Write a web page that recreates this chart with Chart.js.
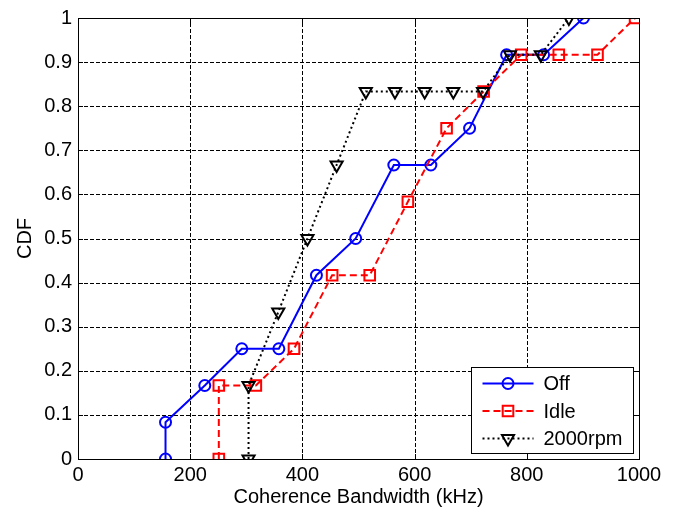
<!DOCTYPE html>
<html>
<head>
<meta charset="utf-8">
<script src="https://cdn.jsdelivr.net/npm/chart.js@4.4.1/dist/chart.umd.min.js"></script>
<style>
html,body{margin:0;padding:0;background:#fff;}
#c{display:block;}
</style>
</head>
<body>
<canvas id="c" width="683" height="512"></canvas>
<script>
// ---- data ----
const seriesNames = ['Off', 'Idle', '2000rpm'];
const offX  = [156, 156, 226, 292, 358, 425, 495, 563, 629, 698, 764, 830, 901];
const offY  = [0, 0.0833, 0.1667, 0.25, 0.25, 0.4167, 0.5, 0.6667, 0.6667, 0.75, 0.9167, 0.9167, 1];
const idleX = [251, 251, 317, 385, 453, 520, 588, 657, 723, 790, 857, 926, 993];
const idleY = [0, 0.1667, 0.1667, 0.25, 0.4167, 0.4167, 0.5833, 0.75, 0.8333, 0.9167, 0.9167, 0.9167, 1];
const rpmX  = [304, 304, 357, 409, 461, 513, 565, 618, 669, 722, 770, 825, 875];
const rpmY  = [0, 0.1667, 0.3333, 0.5, 0.6667, 0.8333, 0.8333, 0.8333, 0.8333, 0.8333, 0.9167, 0.9167, 1];
const xTicks = [0, 200, 400, 600, 800, 1000];
const yTicks = [0, 0.1, 0.2, 0.3, 0.4, 0.5, 0.6, 0.7, 0.8, 0.9, 1];
const xTitle = 'Coherence Bandwidth (kHz)';
const yTitle = 'CDF';

const pts = (xs, ys) => xs.map((x, i) => ({x: x, y: ys[i]}));
const FONT = "'Liberation Sans', Arial, Helvetica, sans-serif";
const FS = 20;

const datasets = [
  {label: seriesNames[0], data: pts(offX, offY), borderColor: '#0000ff', borderWidth: 2,
   pointStyle: 'circle', pointRadius: 5.5, pointBorderWidth: 2, pointBackgroundColor: 'rgba(0,0,0,0)',
   pointBorderColor: '#0000ff', borderDash: [], order: 3},
  {label: seriesNames[1], data: pts(idleX, idleY), borderColor: '#ff0000', borderWidth: 2,
   pointStyle: 'rect', pointRadius: 7.5, pointBorderWidth: 2, pointBackgroundColor: 'rgba(0,0,0,0)',
   pointBorderColor: '#ff0000', borderDash: [7, 4], order: 2},
  {label: seriesNames[2], data: pts(rpmX, rpmY), borderColor: '#000000', borderWidth: 2,
   pointStyle: 'triangle', pointRotation: 180, pointRadius: 7, pointBorderWidth: 2,
   pointBackgroundColor: 'rgba(0,0,0,0)', pointBorderColor: '#000000', borderDash: [2, 3], order: 1}
];
datasets.forEach(d => { d.showLine = true; d.fill = false; d.tension = 0; });

function markerPath(ctx, style, r, mx, cy) {
  ctx.beginPath();
  if (style === 'circle') {
    ctx.arc(mx, cy, r, 0, Math.PI * 2);
  } else if (style === 'rect') {
    const s = Math.SQRT1_2 * r;
    ctx.rect(mx - s, cy - s, 2 * s, 2 * s);
  } else {
    let rad = Math.PI;
    ctx.moveTo(mx + Math.sin(rad) * r, cy - Math.cos(rad) * r);
    rad += 2 * Math.PI / 3; ctx.lineTo(mx + Math.sin(rad) * r, cy - Math.cos(rad) * r);
    rad += 2 * Math.PI / 3; ctx.lineTo(mx + Math.sin(rad) * r, cy - Math.cos(rad) * r);
    ctx.closePath();
  }
}

const framePlugin = {
  id: 'frame',
  beforeDatasetsDraw(chart) {
    const ctx = chart.ctx, a = chart.chartArea;
    const xs = chart.scales.x, ys = chart.scales.y;
    ctx.save();
    ctx.strokeStyle = '#000';
    ctx.lineWidth = 1;
    ctx.setLineDash([4, 2]);
    ctx.beginPath();
    xTicks.forEach(v => {
      const px = Math.round(xs.getPixelForValue(v)) + 0.5;
      if (px <= a.left + 1 || px >= a.right - 1) return;
      ctx.moveTo(px, a.bottom); ctx.lineTo(px, a.top);
    });
    ctx.stroke();
    ctx.beginPath();
    yTicks.forEach(v => {
      const py = Math.round(ys.getPixelForValue(v)) + 0.5;
      if (py <= a.top + 1 || py >= a.bottom - 1) return;
      ctx.moveTo(a.left, py); ctx.lineTo(a.right, py);
    });
    ctx.stroke();
    ctx.restore();
  },
  afterDatasetsDraw(chart) {
    const ctx = chart.ctx, a = chart.chartArea;
    const xs = chart.scales.x, ys = chart.scales.y;
    ctx.save();
    ctx.strokeStyle = '#000';
    ctx.lineWidth = 1;
    ctx.setLineDash([]);
    ctx.strokeRect(Math.round(a.left) + 0.5, Math.round(a.top) + 0.5,
                   Math.round(a.right - a.left), Math.round(a.bottom - a.top));
    // inward tick marks
    const tl = 5;
    ctx.beginPath();
    xTicks.forEach(v => {
      const px = Math.round(xs.getPixelForValue(v)) + 0.5;
      ctx.moveTo(px, a.bottom); ctx.lineTo(px, a.bottom - tl);
      ctx.moveTo(px, a.top); ctx.lineTo(px, a.top + tl);
    });
    yTicks.forEach(v => {
      const py = Math.round(ys.getPixelForValue(v)) + 0.5;
      ctx.moveTo(a.left, py); ctx.lineTo(a.left + tl, py);
      ctx.moveTo(a.right, py); ctx.lineTo(a.right - tl, py);
    });
    ctx.stroke();

    // legend (inside, lower right)
    const lw = 162, lh = 86;
    const lx = Math.round(a.right - 6 - lw) + 0.5, ly = Math.round(a.bottom - 6 - lh) + 0.5;
    ctx.fillStyle = '#fff';
    ctx.fillRect(lx, ly, lw, lh);
    ctx.strokeStyle = '#000';
    ctx.lineWidth = 1;
    ctx.strokeRect(lx, ly, lw, lh);
    ctx.font = FS + 'px ' + FONT;
    ctx.textBaseline = 'middle';
    ctx.textAlign = 'left';
    chart.data.datasets.forEach((d, i) => {
      const cy = ly + 16 + i * 27.5;
      const x1 = lx + 11, x2 = lx + 62, mx = (x1 + x2) / 2;
      ctx.save();
      ctx.strokeStyle = d.borderColor;
      ctx.lineWidth = d.borderWidth;
      ctx.setLineDash(d.borderDash);
      ctx.beginPath(); ctx.moveTo(x1, cy); ctx.lineTo(x2, cy); ctx.stroke();
      ctx.setLineDash([]);
      ctx.lineWidth = d.pointBorderWidth;
      markerPath(ctx, d.pointStyle, d.pointRadius, mx, cy);
      ctx.stroke();
      ctx.restore();
      ctx.fillStyle = '#000';
      ctx.fillText(d.label, lx + 72, cy + 1);
    });
    ctx.restore();
  }
};

new Chart(document.getElementById('c'), {
  type: 'scatter',
  data: {datasets: datasets},
  options: {
    responsive: false,
    animation: false,
    devicePixelRatio: 1,
    layout: {padding: {top: 17, right: 44, bottom: 0, left: 0}},
    plugins: {legend: {display: false}, tooltip: {enabled: false}},
    scales: {
      x: {
        type: 'linear', min: 0, max: 1000,
        afterBuildTicks(s) { s.ticks = xTicks.map(v => ({value: v})); },
        afterFit(s) { s.height = 53; },
        border: {display: false},
        grid: {display: false, drawTicks: false},
        ticks: {color: '#000', font: {family: FONT, size: FS}, padding: 4, maxRotation: 0,
                callback: v => String(v)},
        title: {display: true, text: xTitle, color: '#000', font: {family: FONT, size: FS},
                padding: {top: 0, bottom: 3}}
      },
      y: {
        type: 'linear', min: 0, max: 1,
        afterBuildTicks(s) { s.ticks = yTicks.map(v => ({value: v})); },
        afterFit(s) { s.width = 78; },
        border: {display: false},
        grid: {display: false, drawTicks: false},
        ticks: {color: '#000', font: {family: FONT, size: FS}, padding: 6,
                callback: v => String(Number(Number(v).toFixed(1)))},
        title: {display: true, text: yTitle, color: '#000', font: {family: FONT, size: FS},
                padding: {top: 13, bottom: 0}}
      }
    }
  },
  plugins: [framePlugin]
});
</script>
</body>
</html>
